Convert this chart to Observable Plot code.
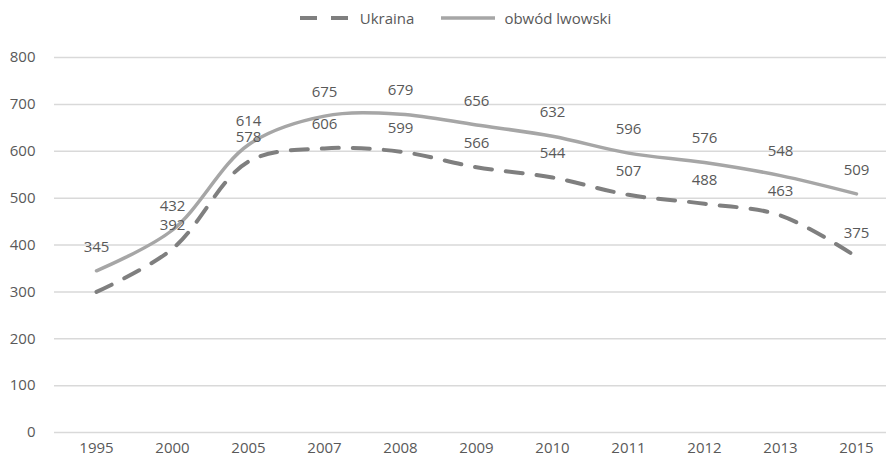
<!DOCTYPE html>
<html><head><meta charset="utf-8">
<script src="https://cdn.jsdelivr.net/npm/d3@7"></script>
<script src="https://cdn.jsdelivr.net/npm/@observablehq/plot@0.6"></script>
<style>
body{margin:0;background:#fff;font-family:"Open Sans",sans-serif;}
#legend{height:36px;display:flex;align-items:center;justify-content:center;padding-left:25px;color:#595959;font-size:15px;box-sizing:border-box;}
#legend .item{display:flex;align-items:center;}
#legend svg{display:block;}
</style></head><body>
<div id="legend"></div>
<div id="chart"></div>
<script>
const years = ["1995","2000","2005","2007","2008","2009","2010","2011","2012","2013","2015"];
const ukraina = [300,392,578,606,599,566,544,507,488,463,375];
const ukrainaLabelled = [false,true,true,true,true,true,true,true,true,true,true];
const lwowski = [345,432,614,675,679,656,632,596,576,548,509];
const yTicks = [0,100,200,300,400,500,600,700,800];
const seriesNames = ["Ukraina","obwód lwowski"];
const colors = {"Ukraina":"#7f7f7f","obwód lwowski":"#a6a6a6"};

const rows = [];
years.forEach((y,i)=>{
  rows.push({year:y, value:ukraina[i], series:"Ukraina", labelled:ukrainaLabelled[i]});
  rows.push({year:y, value:lwowski[i], series:"obwód lwowski", labelled:true});
});
const uk = rows.filter(d=>d.series==="Ukraina");
const lw = rows.filter(d=>d.series==="obwód lwowski");

// legend
const legend = document.getElementById("legend");
legend.innerHTML = `
<div class="item"><svg width="48" height="10"><line x1="0" x2="48" y1="5" y2="5" stroke="${colors["Ukraina"]}" stroke-width="4" stroke-dasharray="17,14"/></svg><span style="margin-left:12px">${seriesNames[0]}</span></div>
<div class="item" style="margin-left:27px"><svg width="54" height="10"><line x1="0" x2="54" y1="5" y2="5" stroke="${colors["obwód lwowski"]}" stroke-width="3.5"/></svg><span style="margin-left:9px">${seriesNames[1]}</span></div>`;

const chart = Plot.plot({
  width: 886,
  height: 426,
  marginLeft: 54,
  marginRight: 0,
  marginTop: 21,
  marginBottom: 30,
  style: {fontFamily: "'Open Sans', sans-serif", fontSize: "15px", color: "#595959", background: "#fff"},
  x: {type: "point", domain: years, range: [93, 859], padding: 0, label: null, tickSize: 0, tickPadding: 10},
  y: {domain: [0, 800], ticks: yTicks, label: null, tickSize: 0, tickPadding: 19},
  marks: [
    Plot.ruleY(yTicks, {stroke: "#d9d9d9", strokeWidth: 1.5}),
    Plot.line(uk, {x: "year", y: "value", stroke: colors["Ukraina"], strokeWidth: 4, strokeDasharray: "17,14", curve: "catmull-rom"}),
    Plot.line(lw, {x: "year", y: "value", stroke: colors["obwód lwowski"], strokeWidth: 3.5, curve: "catmull-rom"}),
    Plot.text(rows.filter(d=>d.labelled), {x: "year", y: "value", text: d=>String(d.value), dy: -24, fill: "#595959", fontSize: 15})
  ]
});
document.getElementById("chart").appendChild(chart);
</script>
</body></html>
